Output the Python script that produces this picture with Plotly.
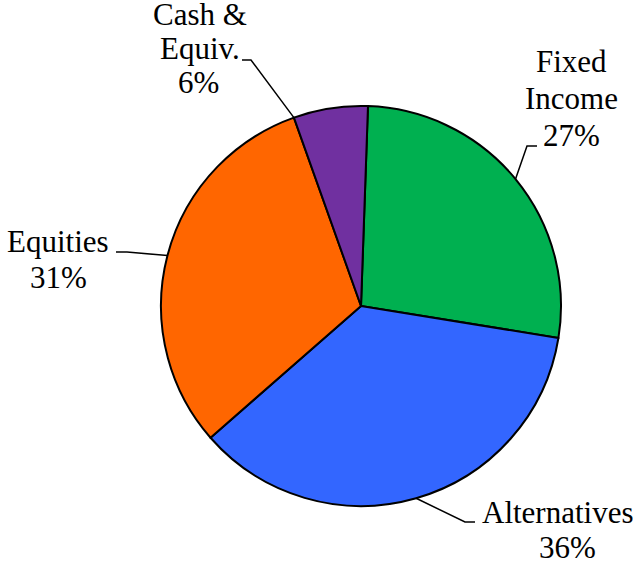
import math
import plotly.graph_objects as go

# ---- data ----
categories = ["Fixed Income", "Alternatives", "Equities", "Cash & Equiv."]
values = [27, 36, 31, 6]
label_lines = [["Fixed", "Income"], ["Alternatives"], ["Equities"], ["Cash &", "Equiv."]]
colors = ["#00B050", "#3366FF", "#FF6600", "#7030A0"]

# ---- layout / style ----
W, H = 633, 564
CX, CY, R = 361, 306, 200          # pie centre and radius in pixels
ROTATION = 2                        # degrees clockwise from 12 o'clock
FONT = dict(family="Liberation Serif", size=31, color="black")
# per-label style: text centre x, first baseline y, line gap, pct-line x shift,
# leader elbow (x, y), elbow end x, anchor fraction within slice
label_style = [
    dict(tx=571, ty=72, gap=37, pdx=0, ex=527, ey=146, hx=537, frac=0.5),
    dict(tx=558, ty=523, gap=35, pdx=9, ex=465, ey=522, hx=475, frac=0.5),
    dict(tx=58, ty=252, gap=36, pdx=0, ex=127, ey=252, hx=116, frac=0.5),
    dict(tx=200, ty=25, gap=34, pdx=-2, ex=251, ey=60, hx=242, frac=0.0),
]


def px(x):
    return x / W


def py(y):
    return 1 - y / H


fig = go.Figure(go.Pie(
    labels=categories,
    values=values,
    sort=False,
    direction="clockwise",
    rotation=ROTATION,
    marker=dict(colors=colors, line=dict(color="black", width=2)),
    textinfo="none",
    hoverinfo="label+percent",
    showlegend=False,
    domain=dict(x=[px(CX - R), px(CX + R)], y=[py(CY + R), py(CY - R)]),
))

total = sum(values)
annotations = []
shapes = []
cum = 0.0
for cat, v, lines, st in zip(categories, values, label_lines, label_style):
    start = ROTATION + cum / total * 360
    span = v / total * 360
    cum += v
    a = math.radians(start + st["frac"] * span)
    ax_, ay_ = CX + R * math.sin(a), CY - R * math.cos(a)
    path = "M {},{} L {},{} L {},{}".format(px(ax_), py(ay_), px(st["ex"]), py(st["ey"]),
                                             px(st["hx"]), py(st["ey"]))
    shapes.append(dict(type="path", xref="paper", yref="paper", path=path,
                       line=dict(color="black", width=1.5)))
    texts = lines + ["{:.0f}%".format(v / total * 100)]
    for i, t in enumerate(texts):
        base = st["ty"] + i * st["gap"]
        x = st["tx"] + (st["pdx"] if i == len(texts) - 1 else 0)
        annotations.append(dict(text=t, x=px(x), y=py(base - 10.5), xref="paper", yref="paper",
                                xanchor="center", yanchor="middle", showarrow=False,
                                font=FONT, borderpad=0))

fig.update_layout(
    width=W, height=H,
    margin=dict(l=0, r=0, t=0, b=0),
    paper_bgcolor="white", plot_bgcolor="white",
    font=FONT,
    annotations=annotations, shapes=shapes,
)

fig.write_html("out.html", config={"displayModeBar": False},
               post_script="document.body.style.margin='0';")
